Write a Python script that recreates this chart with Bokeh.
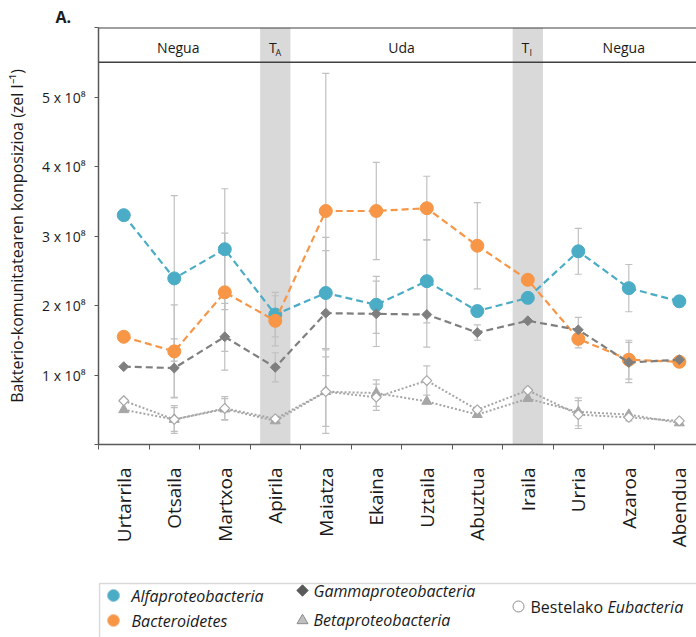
import math
from bokeh.plotting import figure
from bokeh.models import Range1d, FixedTicker, BoxAnnotation, Span
from bokeh.layouts import column
from bokeh.core.properties import value
from bokeh.embed import file_html
from bokeh.resources import INLINE

# ---------------- data (values in units of 1e8 cells per litre) ----------------
months = ["Urtarrila", "Otsaila", "Martxoa", "Apirila", "Maiatza", "Ekaina",
          "Uztaila", "Abuztua", "Iraila", "Urria", "Azaroa", "Abendua"]
alfa = [3.30, 2.39, 2.81, 1.87, 2.18, 2.01, 2.35, 1.92, 2.11, 2.78, 2.25, 2.06]
alfa_err = [0, 1.19, 0.87, 0.32, 0.80, 0.41, 0.60, 0, 0, 0.33, 0.34, 0]
bact = [1.55, 1.34, 2.19, 1.78, 3.36, 3.36, 3.40, 2.86, 2.37, 1.52, 1.22, 1.19]
bact_err = [0, 0.67, 0.85, 0.36, 1.98, 0.70, 0.46, 0.62, 0, 0.13, 0.28, 0]
gamma = [1.12, 1.10, 1.55, 1.11, 1.89, 1.88, 1.87, 1.61, 1.78, 1.65, 1.18, 1.22]
gamma_err = [0, 0.42, 0.48, 0.21, 0.90, 0.47, 0.47, 0.11, 0, 0.18, 0.29, 0]
beta = [0.50, 0.36, 0.51, 0.34, 0.76, 0.74, 0.62, 0.43, 0.66, 0.47, 0.43, 0.31]
beta_err = [0, 0.17, 0.15, 0, 0.50, 0.19, 0, 0, 0, 0.20, 0, 0]
eub = [0.63, 0.36, 0.52, 0.37, 0.76, 0.68, 0.92, 0.50, 0.78, 0.43, 0.39, 0.34]
eub_err = [0, 0.20, 0.17, 0, 0.60, 0.19, 0.21, 0, 0, 0.20, 0.05, 0]

y_ticks = [0, 1, 2, 3, 4, 5, 6]
y_tick_labels = ["", "1 x 10⁸", "2 x 10⁸", "3 x 10⁸", "4 x 10⁸", "5 x 10⁸", ""]

season_labels = ["Negua", "T", "Uda", "T", "Negua"]
season_x = [1.58, 3.45, 6.0, 8.45, 10.4]
sub_labels = ["A", "I"]
sub_x = [3.5, 8.5]
transition_months = [3, 8]   # Apirila, Iraila

legend_labels = ["Alfaproteobacteria", "Bacteroidetes", "Gammaproteobacteria",
                 "Betaproteobacteria"]

SCALE = 1e8
FONT = "Open Sans"
BLUE = "#4BACC6"
ORANGE = "#F79646"
DGRAY = "#7F7F7F"
LGRAY = "#A6A6A6"
EBAR = "#C0C0C0"
AXIS = "#595959"
DIAMOND = math.pi / 4

xs = [i + 0.5 for i in range(len(months))]

p = figure(width=696, height=575, x_range=Range1d(0, 11.84),
           y_range=Range1d(0, 6 * SCALE), output_backend="svg",
           toolbar_location=None, min_border_left=98, min_border_right=0,
           min_border_top=27, min_border_bottom=131)
p.outline_line_color = None
p.xgrid.grid_line_color = None
p.ygrid.grid_line_color = None
p.background_fill_color = "white"

p.title.text = "A."
p.title.align = "left"
p.title.offset = -43
p.title.text_font = FONT
p.title.text_font_size = "16px"
p.title.text_font_style = "bold"
p.title.text_color = "#1a1a1a"
p.title.standoff = 0
p.title.text_line_height = 0.7

# transition bands
for m in transition_months:
    p.add_layout(BoxAnnotation(left=xs[m] - 0.3, right=xs[m] + 0.3,
                               fill_color="#D9D9D9", fill_alpha=1.0,
                               line_color=None, level="underlay"))

# header lines
p.add_layout(Span(location=6 * SCALE, dimension="width", line_color="#404040",
                  line_width=2))
p.add_layout(Span(location=5.5 * SCALE, dimension="width", line_color="#404040",
                  line_width=1.5))

# error bars
def errbars(vals, errs):
    xi = [xs[i] for i in range(len(vals)) if errs[i] > 0]
    lo = [(vals[i] - errs[i]) * SCALE for i in range(len(vals)) if errs[i] > 0]
    hi = [(vals[i] + errs[i]) * SCALE for i in range(len(vals)) if errs[i] > 0]
    p.segment(x0=xi, y0=lo, x1=xi, y1=hi, line_color=EBAR, line_width=1.2)
    cx0 = [v - 0.07 for v in xi]
    cx1 = [v + 0.07 for v in xi]
    p.segment(x0=cx0, y0=lo, x1=cx1, y1=lo, line_color=EBAR, line_width=1.2)
    p.segment(x0=cx0, y0=hi, x1=cx1, y1=hi, line_color=EBAR, line_width=1.2)

for v, e in [(alfa, alfa_err), (bact, bact_err), (gamma, gamma_err),
             (beta, beta_err), (eub, eub_err)]:
    errbars(v, e)

def sc(v):
    return [a * SCALE for a in v]

# series
p.line(xs, sc(alfa), line_color=BLUE, line_width=2.2, line_dash="7 4")
p.scatter(xs, sc(alfa), marker="circle", size=13, fill_color=BLUE, line_color=BLUE)
p.line(xs, sc(bact), line_color=ORANGE, line_width=2.2, line_dash="7 4")
p.scatter(xs, sc(bact), marker="circle", size=13, fill_color=ORANGE, line_color=ORANGE)
p.line(xs, sc(gamma), line_color=DGRAY, line_width=2.2, line_dash="7 4")
p.scatter(xs, sc(gamma), marker="square", size=7, angle=DIAMOND,
          fill_color=DGRAY, line_color=DGRAY)
p.line(xs, sc(beta), line_color=LGRAY, line_width=2, line_dash="2 2")
p.scatter(xs, sc(beta), marker="triangle", size=10, fill_color=LGRAY, line_color=LGRAY)
p.line(xs, sc(eub), line_color=LGRAY, line_width=2, line_dash="2 2")
p.scatter(xs, sc(eub), marker="square", size=7, angle=DIAMOND, fill_color="white",
          line_color=LGRAY, line_width=1.2)

# header texts
p.text(x=season_x, y=[5.71 * SCALE] * len(season_x), text=season_labels,
       text_font=value(FONT), text_font_size="14px", text_color="#1a1a1a",
       text_align="center", text_baseline="middle")
p.text(x=sub_x, y=[5.71 * SCALE] * len(sub_x), text=sub_labels,
       text_font=value(FONT), text_font_size="9px", text_color="#1a1a1a",
       text_align="center", text_baseline="middle", x_offset=3, y_offset=5)

# axes
p.xaxis.ticker = FixedTicker(ticks=xs, minor_ticks=list(range(13)))
p.xaxis.major_label_overrides = {x: m for x, m in zip(xs, months)}
p.xaxis.major_label_orientation = math.pi / 2
p.xaxis.major_tick_in = 0
p.xaxis.major_tick_out = 0
p.xaxis.major_tick_line_color = None
p.xaxis.minor_tick_in = 0
p.xaxis.minor_tick_out = 5
p.xaxis.minor_tick_line_color = AXIS
p.xaxis.axis_line_color = AXIS
p.xaxis.axis_line_width = 1.5
p.xaxis.major_label_standoff = 18
p.xaxis.major_label_text_font = FONT
p.xaxis.major_label_text_font_size = "19px"
p.xaxis.major_label_text_color = "#1a1a1a"

p.yaxis.ticker = FixedTicker(ticks=[t * SCALE for t in y_ticks], minor_ticks=[])
p.yaxis.major_label_overrides = {t * SCALE: l for t, l in zip(y_ticks, y_tick_labels)}
p.yaxis.major_tick_in = 0
p.yaxis.major_tick_out = 4
p.yaxis.major_tick_line_color = AXIS
p.yaxis.minor_tick_line_color = None
p.yaxis.axis_line_color = AXIS
p.yaxis.axis_line_width = 1.5
p.yaxis.major_label_standoff = 9
p.yaxis.major_label_text_font = FONT
p.yaxis.major_label_text_font_size = "14px"
p.yaxis.major_label_text_color = "#1a1a1a"
p.yaxis.axis_label = "Bakterio-komunitatearen konposizioa (zel l⁻¹)"
p.yaxis.axis_label_text_font = FONT
p.yaxis.axis_label_text_font_size = "16px"
p.yaxis.axis_label_text_font_style = "normal"
p.yaxis.axis_label_text_color = "#1a1a1a"
p.yaxis.axis_label_standoff = 11

# ---------------- legend (separate strip, coordinates in page pixels) ----------------
leg = figure(width=696, height=62, x_range=Range1d(98, 696), y_range=Range1d(637, 575),
             output_backend="svg", toolbar_location=None, min_border_left=98,
             min_border_right=0, min_border_top=0, min_border_bottom=0,
             x_axis_type=None, y_axis_type=None)
leg.outline_line_color = None
leg.xgrid.grid_line_color = None
leg.ygrid.grid_line_color = None
leg.quad(left=[99], right=[720], top=[583], bottom=[660], fill_color=None,
         line_color="#D9D9D9", line_width=1.5)
leg.scatter([113], [595], marker="circle", size=12, fill_color=BLUE, line_color="#8fc9d8")
leg.scatter([113], [620], marker="circle", size=12, fill_color=ORANGE, line_color="#f9bf8f")
leg.scatter([302], [590], marker="square", size=8, angle=DIAMOND,
            fill_color="#595959", line_color="#595959")
leg.scatter([302], [620], marker="triangle", size=11, fill_color="#BFBFBF", line_color="#8c8c8c")
leg.scatter([518], [606], marker="circle", size=11, fill_color="white", line_color="#8c8c8c")
leg.text(x=[131, 131, 313, 313], y=[595, 620, 590, 619], text=legend_labels,
         text_font=value(FONT), text_font_size="16px", text_font_style="italic",
         text_color="#1a1a1a", text_baseline="middle")
leg.text(x=[530], y=[606], text=["Bestelako"], text_font=value(FONT),
         text_font_size="16px", text_color="#1a1a1a", text_baseline="middle")
leg.text(x=[607], y=[606], text=["Eubacteria"], text_font=value(FONT),
         text_font_size="16px", text_font_style="italic", text_color="#1a1a1a",
         text_baseline="middle")

layout = column(p, leg, spacing=0)
open("out.html", "w").write(file_html(layout, INLINE))
